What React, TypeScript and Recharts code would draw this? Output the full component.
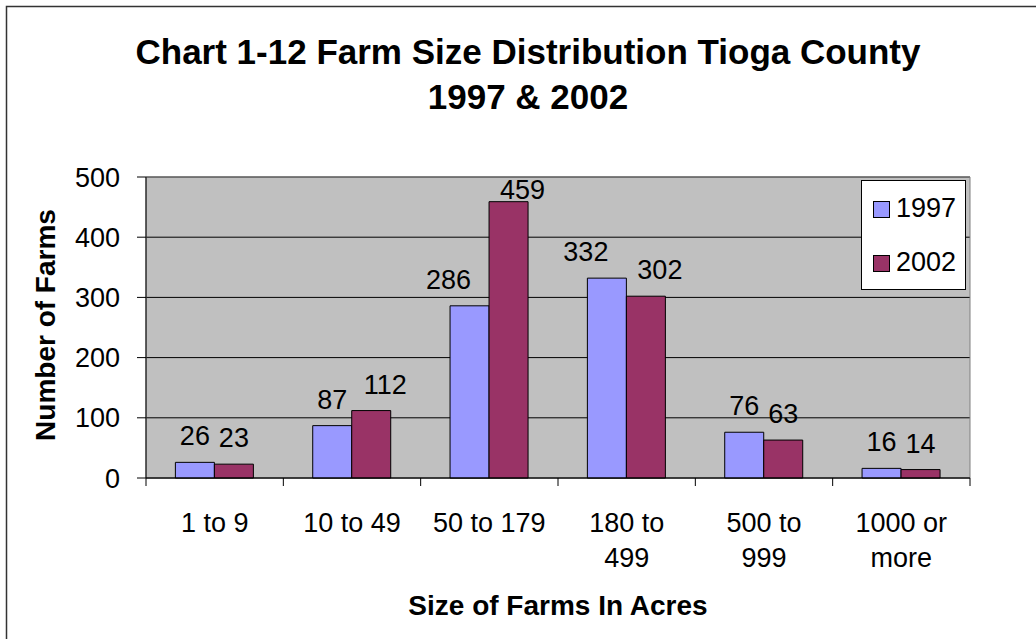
import { BarChart, Bar, XAxis, YAxis, CartesianGrid, LabelList, ReferenceArea } from 'recharts';

// Datos (número de granjas por rango de acres).
const CATEGORIAS = ['1 to 9', '10 to 49', '50 to 179', '180 to 499', '500 to 999', '1000 or more'];
const Y1997 = [26, 87, 286, 332, 76, 16];
const Y2002 = [23, 112, 459, 302, 63, 14];
const Y_TICKS = [0, 100, 200, 300, 400, 500];
const SERIES = ['1997', '2002'];

const AZUL = '#9999FF';
const GRANATE = '#993366';
const FONDO = '#C0C0C0';
const COLORES = [AZUL, GRANATE];
const FUENTE = '"Liberation Sans", Arial, sans-serif';

const W = 1036;
const H = 639;
const PLOT = { left: 146, top: 177, right: 970, bottom: 478 };
const BANDA = (PLOT.right - PLOT.left) / CATEGORIAS.length;

const rows = CATEGORIAS.map((c, i) => ({ rango: c, y1997: Y1997[i], y2002: Y2002[i] }));

// Excel parte las etiquetas largas en dos líneas y marca los límites de cada categoría.
function TickRango(props: any) {
  const { x, y, payload, index } = props;
  const txt = String(payload.value);
  const corte = txt.lastIndexOf(' ');
  const lineas = txt.length > 9 ? [txt.slice(0, corte), txt.slice(corte + 1)] : [txt];
  const izq = x - BANDA / 2;
  return (
    <g>
      <line x1={izq} x2={izq} y1={y} y2={y + 8} stroke="#000" />
      {index === CATEGORIAS.length - 1 && (
        <line x1={izq + BANDA} x2={izq + BANDA} y1={y} y2={y + 8} stroke="#000" />
      )}
      <text x={x} y={y + 54} textAnchor="middle" fontSize={27} fontFamily={FUENTE} fill="#000">
        {lineas.map((l, i) => (
          <tspan key={i} x={x} dy={i === 0 ? 0 : 35}>{l}</tspan>
        ))}
      </text>
    </g>
  );
}

const etiqueta = (desplaz: number) => (props: any) => {
  const { x, y, width, value } = props;
  const dx = String(value).length > 2 ? desplaz : 0;
  const base = Math.max(Number(y) - 17, PLOT.top + 22);
  return (
    <text x={Number(x) + Number(width) / 2 + dx} y={base} textAnchor="middle" fontSize={27} fontFamily={FUENTE} fill="#000">
      {value}
    </text>
  );
};

function Marco() {
  return (
    <svg width={W} height={H} style={{ position: 'absolute', left: 0, top: 0, pointerEvents: 'none' }}>
      <rect x={6.5} y={6.5} width={W + 10} height={H + 10} fill="none" stroke="#333" strokeWidth={1.5} />
      <text x={528} textAnchor="middle" fontFamily={FUENTE} fontWeight="bold" fontSize={35} fill="#000">
        <tspan x={528} y={64}>Chart 1-12 Farm Size Distribution Tioga County</tspan>
        <tspan x={528} y={109}>1997 &amp; 2002</tspan>
      </text>
      <text x={558} y={615} textAnchor="middle" fontFamily={FUENTE} fontWeight="bold" fontSize={28} fill="#000">
        Size of Farms In Acres
      </text>
      <text
        transform="translate(55 325) rotate(-90)"
        textAnchor="middle"
        fontFamily={FUENTE}
        fontWeight="bold"
        fontSize={28}
        fill="#000"
      >
        Number of Farms
      </text>
      <g>
        <rect x={861.5} y={180.5} width={104} height={109} fill="#fff" stroke="#000" />
        {SERIES.map((s, i) => (
          <g key={s}>
            <rect x={873.5} y={201.5 + i * 54} width={16} height={16} fill={COLORES[i]} stroke="#000" />
            <text x={896} y={217 + i * 54} fontFamily={FUENTE} fontSize={27} fill="#000">{s}</text>
          </g>
        ))}
      </g>
    </svg>
  );
}

export default function App() {
  return (
    <div style={{ position: 'absolute', left: 0, top: 0, width: W, height: H, background: '#fff' }}>
      <BarChart
        width={W}
        height={H}
        data={rows}
        margin={{ top: PLOT.top, right: W - PLOT.right, left: 0, bottom: 0 }}
        barCategoryGap="21.4%"
        barGap={0}
      >
        <CartesianGrid vertical={false} fill={FONDO} fillOpacity={1} stroke="#000" />
        <ReferenceArea y1={0} y2={500} fill="none" stroke="#808080" ifOverflow="visible" />
        <XAxis
          dataKey="rango"
          height={H - PLOT.bottom}
          interval={0}
          tickLine={false}
          tickSize={0}
          tickMargin={0}
          tick={<TickRango />}
          axisLine={{ stroke: '#000' }}
        />
        <YAxis
          width={PLOT.left}
          domain={[0, 500]}
          ticks={Y_TICKS}
          interval={0}
          tickSize={9}
          tickMargin={17}
          tick={{ fontSize: 27, fill: '#000', fontFamily: FUENTE }}
          axisLine={{ stroke: '#000' }}
          tickLine={{ stroke: '#000' }}
        />
        <Bar dataKey="y1997" name={SERIES[0]} fill={AZUL} stroke="#000" strokeWidth={1} isAnimationActive={false}>
          <LabelList dataKey="y1997" content={etiqueta(-21)} />
        </Bar>
        <Bar dataKey="y2002" name={SERIES[1]} fill={GRANATE} stroke="#000" strokeWidth={1} isAnimationActive={false}>
          <LabelList dataKey="y2002" content={etiqueta(14)} />
        </Bar>
      </BarChart>
      <Marco />
    </div>
  );
}
